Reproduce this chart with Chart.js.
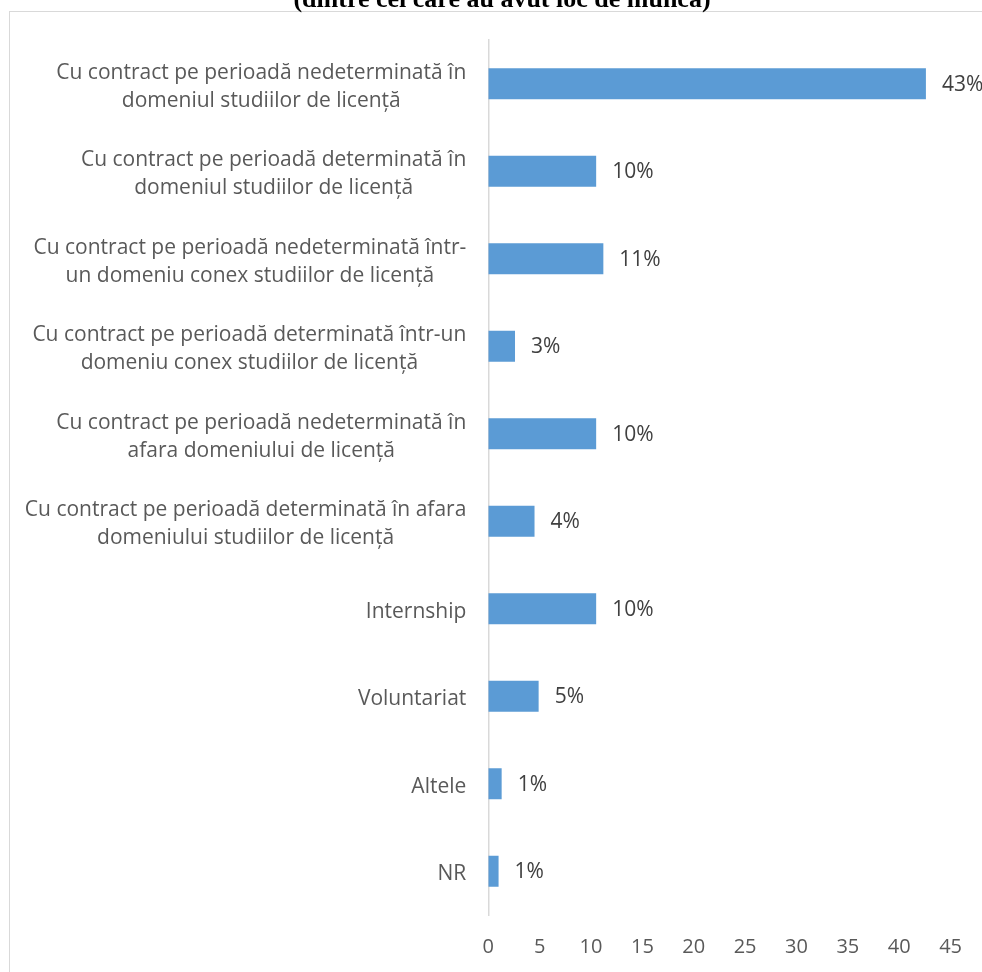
<!DOCTYPE html>
<html>
<head>
<meta charset="utf-8">
<script src="https://cdn.jsdelivr.net/npm/chart.js@4/dist/chart.umd.min.js"></script>
<style>
  body { margin: 0; background: #fff; }
  #wrap { width: 982px; height: 972px; position: relative; }
</style>
</head>
<body>
<div id="wrap"><canvas id="graficoMunca"></canvas></div>
<script>
const titlu = "(dintre cei care au avut loc de muncă)";

const categorii = [
  ["Cu contract pe perioadă nedeterminată în", "domeniul studiilor de licență"],
  ["Cu contract pe perioadă determinată în", "domeniul studiilor de licență"],
  ["Cu contract pe perioadă nedeterminată într-", "un domeniu conex studiilor de licență"],
  ["Cu contract pe perioadă determinată într-un", "domeniu conex studiilor de licență"],
  ["Cu contract pe perioadă nedeterminată în", "afara domeniului de licență"],
  ["Cu contract pe perioadă determinată în afara", "domeniului studiilor de licență"],
  ["Internship"],
  ["Voluntariat"],
  ["Altele"],
  ["NR"]
];

const valori = [42.6, 10.5, 11.2, 2.6, 10.5, 4.5, 10.5, 4.9, 1.3, 1.0];

const eticheteValori = ["43%", "10%", "11%", "3%", "10%", "4%", "10%", "5%", "1%", "1%"];

const ticksX = [0, 5, 10, 15, 20, 25, 30, 35, 40, 45];

const FONT = "'Open Sans', 'Noto Sans', sans-serif";

// chenar, titlu, etichete de categorie si etichete de valoare
const desenSuplimentar = {
  id: 'desenSuplimentar',
  beforeDraw(chart) {
    const ctx = chart.ctx;
    ctx.save();
    ctx.strokeStyle = '#d9d9d9';
    ctx.lineWidth = 1;
    ctx.strokeRect(9.5, 11.5, 1000, 1000);
    ctx.restore();
  },
  afterDraw(chart) {
    const ctx = chart.ctx;
    const area = chart.chartArea;
    const yScale = chart.scales.y;
    const xScale = chart.scales.x;
    ctx.save();

    // titlu (taiat sus)
    ctx.font = "bold 26px 'Liberation Serif', 'Times New Roman', serif";
    ctx.fillStyle = '#000';
    ctx.textAlign = 'center';
    ctx.textBaseline = 'alphabetic';
    ctx.fillText(titlu, 502, 7, 426);

    // etichete categorie
    ctx.font = '21px ' + FONT;
    ctx.fillStyle = '#595959';
    ctx.textBaseline = 'middle';
    categorii.forEach((linii, i) => {
      const yc = yScale.getPixelForValue(i) + 3;
      let latime = 0;
      linii.forEach(l => { latime = Math.max(latime, ctx.measureText(l).width); });
      const dreapta = area.left - 22;
      const cx = dreapta - latime / 2;
      const pas = 28;
      linii.forEach((l, k) => {
        const y = yc + (k - (linii.length - 1) / 2) * pas;
        ctx.fillText(l, cx, y);
      });
    });

    // etichete valori
    ctx.fillStyle = '#404040';
    ctx.textAlign = 'left';
    valori.forEach((v, i) => {
      const x = xScale.getPixelForValue(v) + 16;
      const y = yScale.getPixelForValue(i) + 1;
      ctx.fillText(eticheteValori[i], x, y);
    });
    ctx.restore();
  }
};

const graficoMunca = document.getElementById('graficoMunca');

const grafic = new Chart(graficoMunca, {
  type: 'bar',
  data: {
    labels: categorii,
    datasets: [{
      label: 'Loc de muncă',
      data: valori,
      backgroundColor: '#5b9bd5',
      borderWidth: 0,
      barPercentage: 0.354,
      categoryPercentage: 1
    }]
  },
  options: {
    indexAxis: 'y',
    responsive: true,
    maintainAspectRatio: false,
    animation: false,
    layout: {
      padding: { left: 0, right: 29, top: 40, bottom: 0 }
    },
    plugins: {
      legend: { display: false },
      tooltip: { enabled: false },
      title: { display: false }
    },
    scales: {
      x: {
        min: 0,
        max: 45,
        afterBuildTicks(scale) {
          scale.ticks = ticksX.map(v => ({ value: v }));
        },
        afterFit(scale) {
          scale.height = 57;
        },
        grid: { display: false, drawTicks: false },
        border: { display: false },
        ticks: {
          padding: 20,
          color: '#595959',
          font: { family: FONT, size: 20 }
        }
      },
      y: {
        offset: true,
        afterFit(scale) {
          scale.width = 488.3;
        },
        grid: { display: false, drawTicks: false },
        border: { display: true, color: '#d9d9d9', width: 1.5 },
        ticks: { display: false }
      }
    }
  },
  plugins: [desenSuplimentar]
});
</script>
</body>
</html>
